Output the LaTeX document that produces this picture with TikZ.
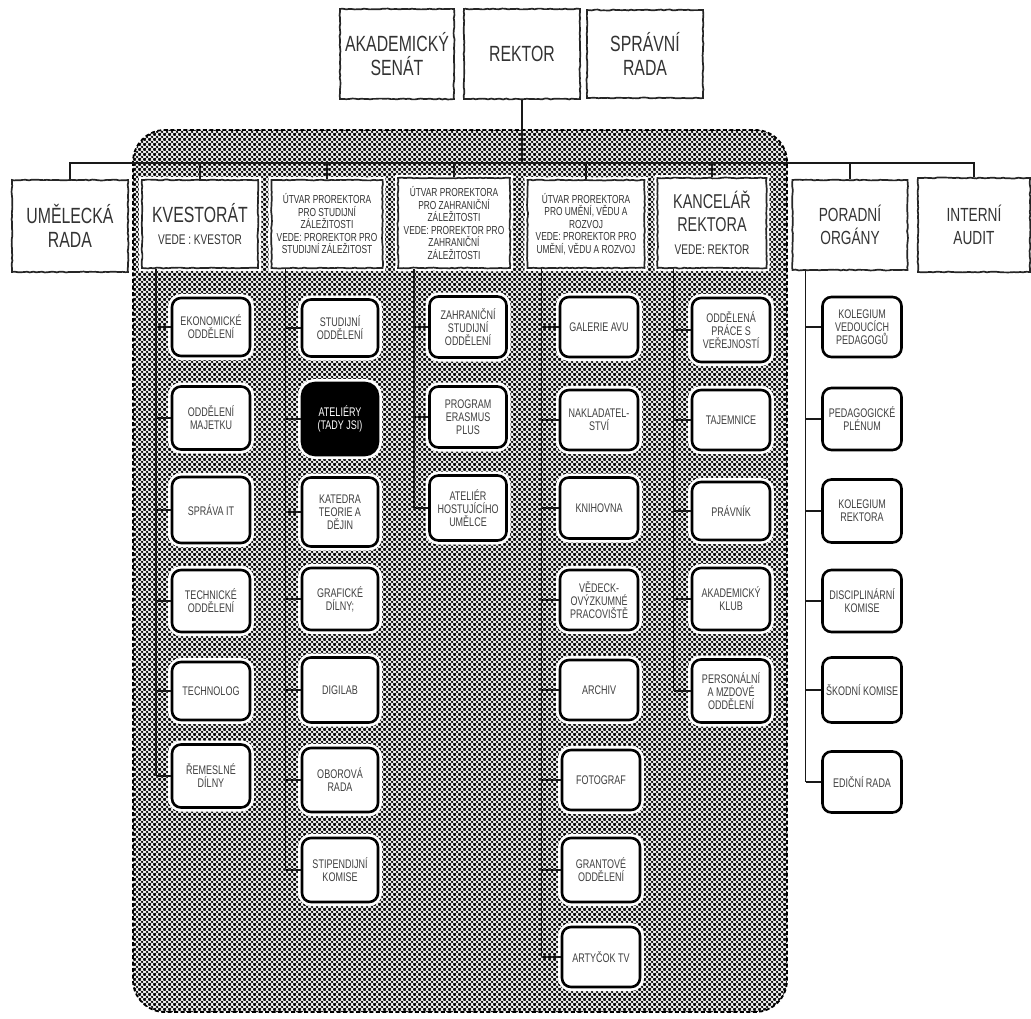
\documentclass[tikz,border=0pt]{standalone}
\usepackage{fontspec}
\setmainfont{Liberation Sans}[FakeStretch=0.72]
\usetikzlibrary{patterns,decorations.pathmorphing}
\pgfdeclarepatternformonly{halftone}{\pgfqpoint{0pt}{0pt}}{\pgfqpoint{5pt}{5pt}}{\pgfqpoint{5pt}{5pt}}{%
  \pgfpathcircle{\pgfqpoint{0pt}{0pt}}{1.58pt}%
  \pgfpathcircle{\pgfqpoint{5pt}{0pt}}{1.58pt}%
  \pgfpathcircle{\pgfqpoint{0pt}{5pt}}{1.58pt}%
  \pgfpathcircle{\pgfqpoint{5pt}{5pt}}{1.58pt}%
  \pgfpathcircle{\pgfqpoint{2.5pt}{2.5pt}}{1.58pt}%
  \pgfusepath{fill}}
\pgfmathsetseed{7}
\tikzset{
  topbox/.style={draw=black!85, line width=1.7pt, fill=white, align=center,
    text=black!80, font=\fontsize{22}{24}\selectfont, inner sep=2pt,
    decorate, decoration={random steps, segment length=3pt, amplitude=0.45pt},
    preaction={draw=white, line width=6pt}},
  hdrbox/.style={topbox, font=\fontsize{11.6}{12.5}\selectfont, inner sep=1pt},
  subbox/.style={draw=black, line width=2.6pt, fill=white, rounded corners=9pt,
    align=center, text=black!75, font=\fontsize{12.5}{13}\selectfont,
    minimum width=78pt, inner sep=1pt, preaction={draw=white, line width=8pt}},
  darkbox/.style={subbox, fill=black, text=white, rounded corners=13pt},
  link/.style={draw=black!90, line width=1.6pt},
}
\begin{document}
\begin{tikzpicture}[x=1pt,y=-1pt]
\useasboundingbox (0,0) rectangle (1031,1019);
% halftone region
\path[pattern=halftone, pattern color=black, rounded corners=32pt] (133,130) rectangle (787,1012);
\draw[black, line width=1.8pt, dash pattern=on 4pt off 2.5pt, rounded corners=32pt] (133,130) rectangle (787,1012);

% top row
\node[topbox, minimum width=114pt, minimum height=90pt] (senat) at (397,54) {AKADEMICKÝ\\SENÁT};
\node[topbox, minimum width=116pt, minimum height=90pt] (rektor) at (522,54) {REKTOR};
\node[topbox, minimum width=116pt, minimum height=88pt] (sprava) at (645,54) {SPRÁVNÍ\\RADA};

% second row
\node[topbox, minimum width=116pt, minimum height=92pt] (umel) at (70,226) {UMĚLECKÁ\\RADA};
\node[topbox, font=\fontsize{22}{22}\selectfont, minimum width=116pt, minimum height=88pt] (kvest) at (200,224)
  {KVESTORÁT\\{\fontsize{14}{16}\selectfont VEDE : KVESTOR}};
\node[hdrbox, minimum width=111pt, minimum height=88pt] (stud) at (327,224)
  {ÚTVAR PROREKTORA\\PRO STUDIJNÍ\\ZÁLEŽITOSTI\\VEDE: PROREKTOR PRO\\STUDIJNÍ ZÁLEŽITOST};
\node[hdrbox, minimum width=112pt, minimum height=90pt] (zahr) at (454,223)
  {ÚTVAR PROREKTORA\\PRO ZAHRANIČNÍ\\ZÁLEŽITOSTI\\VEDE: PROREKTOR PRO\\ZAHRANIČNÍ\\ZÁLEŽITOSTI};
\node[hdrbox, minimum width=117pt, minimum height=88pt] (umeni) at (586,224)
  {ÚTVAR PROREKTORA\\PRO UMĚNÍ, VĚDU A\\ROZVOJ\\VEDE: PROREKTOR PRO\\UMĚNÍ, VĚDU A ROZVOJ};
\node[topbox, font=\fontsize{20}{23}\selectfont, minimum width=109pt, minimum height=90pt] (kanc) at (712,223)
  {KANCELÁŘ\\REKTORA\\{\fontsize{14}{16}\selectfont VEDE: REKTOR}};
\node[topbox, font=\fontsize{19}{23}\selectfont, minimum width=115pt, minimum height=90pt] (porad) at (850,225) {PORADNÍ\\ORGÁNY};
\node[topbox, font=\fontsize{19}{23}\selectfont, minimum width=112pt, minimum height=94pt] (audit) at (974,225) {INTERNÍ\\AUDIT};

% column 1
\node[subbox, minimum height=58pt] (k1) at (211,327) {EKONOMICKÉ\\ODDĚLENÍ};
\node[subbox, minimum height=63pt] (k2) at (211,418) {ODDĚLENÍ\\MAJETKU};
\node[subbox, minimum height=66pt] (k3) at (211,510) {SPRÁVA IT};
\node[subbox, minimum height=62pt] (k4) at (211,601) {TECHNICKÉ\\ODDĚLENÍ};
\node[subbox, minimum height=58pt] (k5) at (211,691) {TECHNOLOG};
\node[subbox, minimum height=63pt] (k6) at (211,776) {ŘEMESLNÉ\\DÍLNY};

% column 2
\node[subbox, minimum width=76pt, minimum height=57pt] (s1) at (340,328) {STUDIJNÍ\\ODDĚLENÍ};
\node[darkbox, minimum width=76pt, minimum height=72pt] (s2) at (340,419) {ATELIÉRY\\(TADY JSI)};
\node[subbox, minimum width=76pt, minimum height=69pt] (s3) at (340,512) {KATEDRA\\TEORIE A\\DĚJIN};
\node[subbox, minimum width=76pt, minimum height=62pt] (s4) at (340,599) {GRAFICKÉ\\DÍLNY;};
\node[subbox, minimum width=76pt, minimum height=65pt] (s5) at (340,690) {DIGILAB};
\node[subbox, minimum width=76pt, minimum height=64pt] (s6) at (340,780) {OBOROVÁ\\RADA};
\node[subbox, minimum width=76pt, minimum height=64pt] (s7) at (340,870) {STIPENDIJNÍ\\KOMISE};

% column 3
\node[subbox, minimum width=77pt, minimum height=61pt] (z1) at (468,327) {ZAHRANIČNÍ\\STUDIJNÍ\\ODDĚLENÍ};
\node[subbox, minimum width=77pt, minimum height=61pt] (z2) at (468,417) {PROGRAM\\ERASMUS\\PLUS};
\node[subbox, minimum width=77pt, minimum height=65pt] (z3) at (468,508) {ATELIÉR\\HOSTUJÍCÍHO\\UMĚLCE};

% column 4
\node[subbox, minimum height=60pt] (u1) at (599,327) {GALERIE AVU};
\node[subbox, minimum height=60pt] (u2) at (599,420) {NAKLADATEL-\\STVÍ};
\node[subbox, minimum height=61pt] (u3) at (599,508) {KNIHOVNA};
\node[subbox, minimum height=60pt] (u4) at (599,600) {VĚDECK-\\OVÝZKUMNÉ\\PRACOVIŠTĚ};
\node[subbox, minimum height=60pt] (u5) at (599,690) {ARCHIV};
\node[subbox, minimum height=60pt] (u6) at (601,780) {FOTOGRAF};
\node[subbox, minimum height=64pt] (u7) at (601,870) {GRANTOVÉ\\ODDĚLENÍ};
\node[subbox, minimum height=60pt] (u8) at (601,957) {ARTYČOK TV};

% column 5
\node[subbox, minimum height=64pt] (r1) at (731,330) {ODDĚLENÁ\\PRÁCE S\\VEŘEJNOSTÍ};
\node[subbox, minimum height=60pt] (r2) at (731,420) {TAJEMNICE};
\node[subbox, minimum height=58pt] (r3) at (731,511) {PRÁVNÍK};
\node[subbox, minimum height=62pt] (r4) at (731,599) {AKADEMICKÝ\\KLUB};
\node[subbox, minimum height=63pt] (r5) at (731,691) {PERSONÁLNÍ\\A MZDOVÉ\\ODDĚLENÍ};

% column 6
\node[subbox, minimum width=79pt, minimum height=60pt] (p1) at (862,327) {KOLEGIUM\\VEDOUCÍCH\\PEDAGOGŮ};
\node[subbox, minimum width=79pt, minimum height=62pt] (p2) at (862,419) {PEDAGOGICKÉ\\PLÉNUM};
\node[subbox, minimum width=79pt, minimum height=63pt] (p3) at (862,511) {KOLEGIUM\\REKTORA};
\node[subbox, minimum width=79pt, minimum height=62pt] (p4) at (862,601) {DISCIPLINÁRNÍ\\KOMISE};
\node[subbox, minimum width=79pt, minimum height=65pt] (p5) at (862,690) {ŠKODNÍ KOMISE};
\node[subbox, minimum width=79pt, minimum height=61pt] (p6) at (862,782) {EDIČNÍ RADA};

% bus
\coordinate (bus) at (0,163);
\draw[link] (umel.north) -- (umel.north |- bus) -- (audit.north |- bus) -- (audit.north);
\foreach \n in {kvest,stud,zahr,umeni,kanc,porad} \draw[link] (\n.north |- bus) -- (\n.north);
\draw[link] (rektor.south) -- (rektor.south |- bus);

% spines
\coordinate (kS) at ([xshift=15pt]kvest.south west);
\coordinate (sS) at ([xshift=15pt]stud.south west);
\coordinate (zS) at ([xshift=17pt]zahr.south west);
\coordinate (uS) at ([xshift=15pt]umeni.south west);
\coordinate (rS) at ([xshift=17pt]kanc.south west);
\coordinate (pS) at ([xshift=14pt]porad.south west);
\draw[link] (kS) -- (kS |- k6.west);
\draw[link] (sS) -- (sS |- s7.west);
\draw[link] (zS) -- (zS |- z3.west);
\draw[link] (uS) -- (uS |- u8.west);
\draw[link] (rS) -- (rS |- r5.west);
\draw[link] (pS) -- (pS |- p6.west);
\foreach \c in {k1,k2,k3,k4,k5,k6} \draw[link] (kS |- \c.west) -- (\c.west);
\foreach \c in {s1,s2,s3,s4,s5,s6,s7} \draw[link] (sS |- \c.west) -- (\c.west);
\foreach \c in {z1,z2,z3} \draw[link] (zS |- \c.west) -- (\c.west);
\foreach \c in {u1,u2,u3,u4,u5,u6,u7,u8} \draw[link] (uS |- \c.west) -- (\c.west);
\foreach \c in {r1,r2,r3,r4,r5} \draw[link] (rS |- \c.west) -- (\c.west);
\foreach \c in {p1,p2,p3,p4,p5,p6} \draw[link] (pS |- \c.west) -- (\c.west);
\end{tikzpicture}
\end{document}
